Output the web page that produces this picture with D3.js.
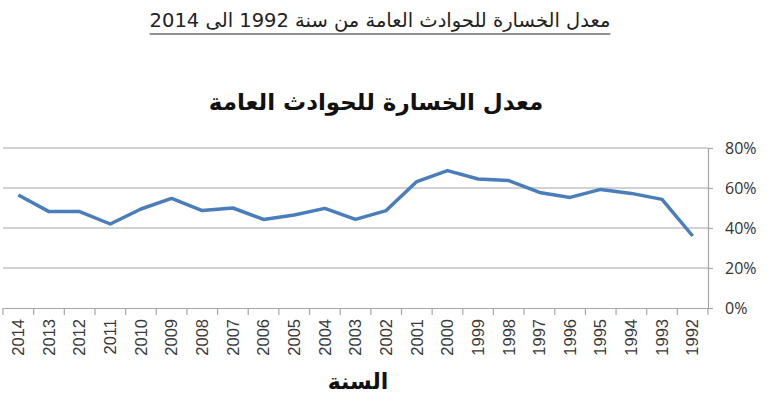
<!DOCTYPE html>
<html><head><meta charset="utf-8">
<script src="https://cdn.jsdelivr.net/npm/d3@7"></script>
<style>body{margin:0;background:#fff}svg{display:block}</style>
</head><body>
<svg id="c" width="770" height="414"></svg>
<script>
const years = ["2014","2013","2012","2011","2010","2009","2008","2007","2006","2005","2004","2003","2002","2001","2000","1999","1998","1997","1996","1995","1994","1993","1992"];
const lossRate = [56.5,48.2,48.2,42,49.5,54.8,48.7,50,44.3,46.5,49.8,44.3,48.7,63.2,68.7,64.5,63.7,57.8,55.3,59.3,57.3,54.3,36];
const yTicks = [0,20,40,60,80];
const pageTitle = "معدل الخسارة للحوادث العامة من سنة 1992 الى 2014";
const chartTitle = "معدل الخسارة للحوادث العامة";
const xTitle = "السنة";

(function(){
const svg = d3.select("#c");
const pL = 3, pR = 708, pT = 148, pB = 308;
const x = d3.scaleBand().domain(years).range([pL, pR]).padding(0);
const y = d3.scaleLinear().domain([0, 80]).range([pB, pT]);

// gridlines
svg.append("g").selectAll("line").data(yTicks.slice(1)).join("line")
  .attr("x1", pL).attr("x2", pR)
  .attr("y1", d => y(d)).attr("y2", d => y(d))
  .attr("stroke", "#a6a6a6").attr("stroke-width", 1.2);

// right y axis
const ya = svg.append("g").attr("transform", `translate(${pR},0)`)
  .call(d3.axisRight(y).tickValues(yTicks).tickFormat(d => d + "%").tickSize(5).tickPadding(12));
ya.select(".domain").attr("stroke", "#a6a6a6").attr("stroke-width", 1.2);
ya.selectAll(".tick line").attr("stroke", "#a6a6a6").attr("stroke-width", 1.2);
ya.selectAll("text").attr("font-family", "Open Sans, DejaVu Sans, sans-serif").attr("font-size", 16).attr("fill", "#333");

// x axis
const xa = svg.append("g").attr("transform", `translate(0,${pB})`)
  .call(d3.axisBottom(x).tickSize(0).tickPadding(0));
xa.select(".domain").attr("stroke", "#a6a6a6").attr("stroke-width", 1.2);
xa.selectAll("text")
  .attr("font-family", "Liberation Sans, Arial, sans-serif").attr("font-size", 16.5).attr("fill", "#3a3a3a")
  .attr("transform", "rotate(-90)").attr("text-anchor", "end").attr("dy", "0.35em").attr("x", -11).attr("y", 0);
// boundary ticks
const bounds = years.map(d => x(d)).concat([pR]);
svg.append("g").selectAll("line").data(bounds).join("line")
  .attr("x1", d => d).attr("x2", d => d).attr("y1", pB).attr("y2", pB + 7)
  .attr("stroke", "#a6a6a6").attr("stroke-width", 1.2);

// line
const line = d3.line().x((d, i) => x(years[i]) + x.bandwidth() / 2).y(d => y(d));
svg.append("path").datum(lossRate).attr("d", line)
  .attr("fill", "none").attr("stroke", "#4a7dbb").attr("stroke-width", 3.5).attr("stroke-linejoin", "round");

// titles
const t = svg.append("text").attr("x", 380).attr("y", 27).attr("text-anchor", "middle")
  .attr("direction", "rtl")
  .attr("font-family", "DejaVu Sans, sans-serif").attr("font-size", 19.5).attr("fill", "#222")
  .text(pageTitle);
const bb = t.node().getBBox();
svg.append("line").attr("x1", bb.x).attr("x2", bb.x + bb.width).attr("y1", 34).attr("y2", 34)
  .attr("stroke", "#222").attr("stroke-width", 1.2);

svg.append("text").attr("x", 376).attr("y", 110).attr("text-anchor", "middle").attr("direction", "rtl")
  .attr("font-family", "DejaVu Sans, sans-serif").attr("font-size", 23).attr("font-weight", "bold").attr("fill", "#111")
  .text(chartTitle);

svg.append("text").attr("x", 358).attr("y", 389).attr("text-anchor", "middle").attr("direction", "rtl")
  .attr("font-family", "DejaVu Sans, sans-serif").attr("font-size", 22).attr("font-weight", "bold").attr("fill", "#111")
  .text(xTitle);
})();
</script>
</body></html>
